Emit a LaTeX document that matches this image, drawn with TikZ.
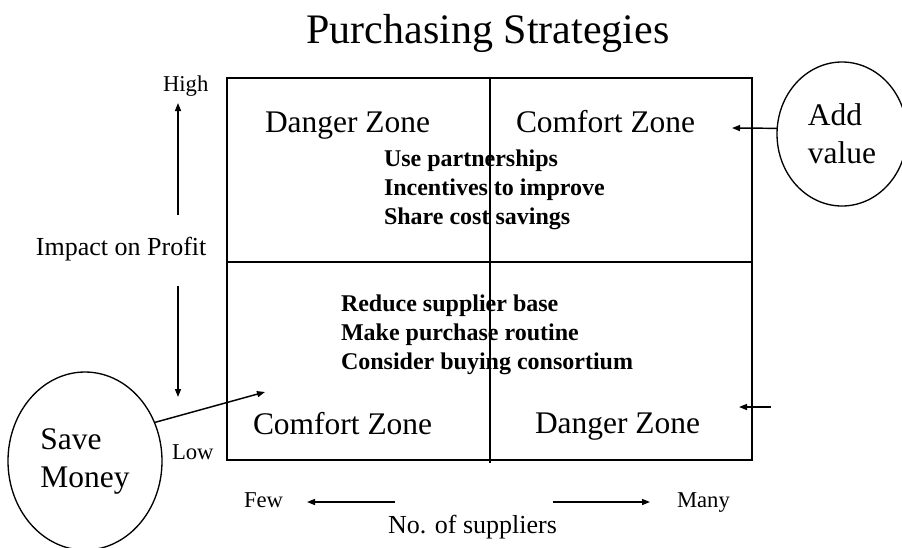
\documentclass[tikz,border=0pt]{standalone}
\usepackage{fontspec}
\setmainfont{Liberation Serif}
\usetikzlibrary{arrows.meta,shapes.geometric}

\begin{document}
\begin{tikzpicture}[x=0.75pt, y=-0.75pt, every node/.style={inner sep=0pt, outer sep=0pt},
	zone/.style={font=\fontsize{23.6}{28}\selectfont, anchor=base west},
	tip/.style={font=\fontsize{18}{21}\selectfont\bfseries, anchor=base west},
	axlabel/.style={font=\fontsize{17}{20}\selectfont, anchor=base west},
	axtitle/.style={font=\fontsize{19.5}{23}\selectfont, anchor=base west},
	goal/.style={draw, ellipse, line width=1pt, align=left, font=\fontsize{23.6}{28.5}\selectfont},
	arr/.style={line width=1.1pt, -{Triangle[length=6pt,width=4.5pt]}}]
\useasboundingbox (0,0) rectangle (902,547);
\node[font=\fontsize{31.5}{38}\selectfont, anchor=base] (title) at (488,43) {Purchasing Strategies};
\draw[line width=1.4pt] (227,78) rectangle (752,460);
\draw[line width=1.1pt] (490,78) -- (490,463);
\draw[line width=1.1pt] (227,262) -- (752,262);
\node[zone] (dangertop) at (265,132) {Danger Zone};
\node[zone] (comforttop) at (516,132) {Comfort Zone};
\node[zone] (comfortlow) at (253,434) {Comfort Zone};
\node[zone] (dangerlow) at (535,433) {Danger Zone};
\foreach \txt [count=\i] in {Use partnerships, Incentives to improve, Share cost savings}{
	\node[tip] (hi\i) at (384,137+29*\i) {\txt};
}
\foreach \txt [count=\i] in {Reduce supplier base, Make purchase routine, Consider buying consortium}{
	\node[tip] (lo\i) at (341,282+29*\i) {\txt};
}
\node[axlabel] (high) at (163,91) {High};
\node[axlabel] (low) at (172,459) {Low};
\node[axtitle] (impact) at (36,255) {Impact on Profit};
\node[axlabel] (few) at (244,507) {Few};
\node[axlabel] (many) at (677,507) {Many};
\node[axtitle] (suppliers) at (388,533) {No. of suppliers};
\coordinate (uptail) at (178,215);
\coordinate (uphead) at (178,103);
\coordinate (downtail) at (178,286);
\coordinate (downhead) at (178,397);
\coordinate (fewtail) at (395,502);
\coordinate (fewhead) at (307,502);
\coordinate (manytail) at (553,502);
\coordinate (manyhead) at (650,502);
\draw[arr] (uptail) -- (uphead);
\draw[arr] (downtail) -- (downhead);
\draw[arr] (fewtail) -- (fewhead);
\draw[arr] (manytail) -- (manyhead);
\node[goal, minimum width=97.5pt, minimum height=108pt] (add) at (842,134) {Add\\value};
\node[goal, minimum width=115.5pt, minimum height=133.5pt] (save) at (85,461) {Save\\Money};
\coordinate (addhead) at (732,128);
\coordinate (savehead) at (265,392);
\coordinate (righttail) at (771,407);
\coordinate (righthead) at (739,407);
\draw[arr] (add.175) -- (addhead);
\draw[arr] (save.29.5) -- (savehead);
\draw[arr] (righttail) -- (righthead);
\end{tikzpicture}
\end{document}
